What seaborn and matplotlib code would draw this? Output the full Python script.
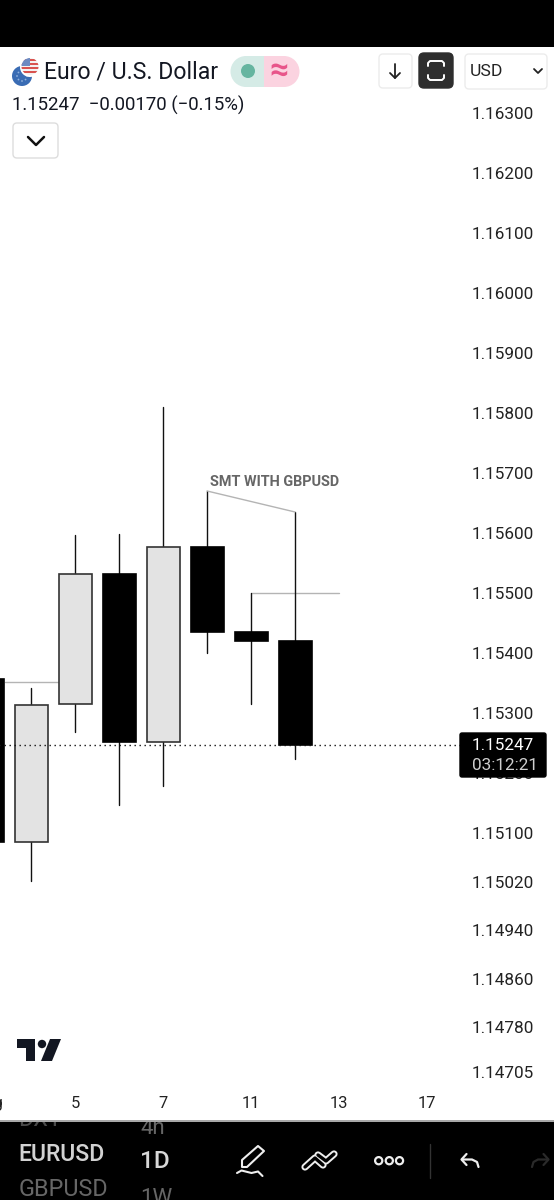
import matplotlib
matplotlib.use('Agg')

import numpy as np
import pandas as pd
import matplotlib.pyplot as plt
import seaborn as sns
from matplotlib.patches import Circle, FancyBboxPatch, Polygon, Rectangle

# candle data
candle_idx = [-1, 0, 1, 2, 3, 4, 5, 6]
opens = [1.153568, 1.150853, 1.153147, 1.155316, 1.152519, 1.155766, 1.154351, 1.154201]
highs = [1.153568, 1.153418, 1.155966, 1.155983, 1.158097, 1.156699, 1.155000, 1.156349]
lows = [1.150853, 1.150204, 1.152685, 1.151470, 1.151786, 1.154001, 1.153152, 1.152236]
closes = [1.150853, 1.153135, 1.155316, 1.152519, 1.155766, 1.154351, 1.154201, 1.152470]

price_ticks = [1.163, 1.162, 1.161, 1.160, 1.159, 1.158, 1.157, 1.156, 1.155, 1.154,
               1.153, 1.152, 1.151, 1.15019, 1.14938, 1.14858, 1.14777, 1.14702]
price_labels = ['1.16300', '1.16200', '1.16100', '1.16000', '1.15900', '1.15800', '1.15700',
                '1.15600', '1.15500', '1.15400', '1.15300', '1.15200', '1.15100', '1.15020',
                '1.14940', '1.14860', '1.14780', '1.14705']
day_ticks = [-0.95, 1, 3, 5, 7, 9]
day_labels = ['Aug', '5', '7', '11', '13', '17']

last_price = 1.15247

df = pd.DataFrame({'idx': candle_idx, 'open': opens, 'high': highs, 'low': lows, 'close': closes})
df['bottom'] = df[['open', 'close']].min(axis=1)
df['height'] = (df['open'] - df['close']).abs()
df['side'] = np.where(df['close'] > df['open'], 'up', 'down')

sns.set_theme(style='white')
plt.rcParams['font.family'] = ['Roboto', 'DejaVu Sans']

W, H = 554, 1200
fig = plt.figure(figsize=(W / 100, H / 100), dpi=100, facecolor='white')

# main chart: starts left of the canvas so the cut off Aug tick is still drawn
ax = fig.add_axes([-13 / W, (H - 1088) / H, 478 / W, (1088 - 48) / H])

wicks = df.melt(id_vars='idx', value_vars=['high', 'low'], value_name='price')
sns.lineplot(data=wicks, x='idx', y='price', units='idx', estimator=None, color='#111111',
             linewidth=1.0, ax=ax, legend=False, zorder=2)

# one barplot per colour, bottom has to match the rows passed in
for side, fill, edge in [('up', '#e3e3e3', '#333333'), ('down', '#000000', '#000000')]:
    part = df[df['side'] == side]
    sns.barplot(data=part, x='idx', y='height', bottom=part['bottom'].values, color=fill,
                saturation=1, native_scale=True, width=0.75, errorbar=None, ax=ax,
                edgecolor=edge, linewidth=1.2, zorder=3)

ax.axhline(last_price, color='#111111', lw=1, ls=(0, (1, 2.6)), zorder=4)

# drawings on the chart
grey = '#b4b4b4'
ax.plot([4, 6], [1.156699, 1.156349], color=grey, lw=1, zorder=2)
ax.plot([5, 7], [1.155, 1.155], color=grey, lw=1, zorder=1)
ax.plot([-0.6, 1], [1.15352, 1.15352], color=grey, lw=1, zorder=1)
ax.text(4.07, 1.15674, 'SMT WITH GBPUSD', color='#666666', fontsize=10.4, fontweight='bold',
        ha='left', va='bottom')

ax.yaxis.tick_right()
ax.set_yticks(price_ticks)
ax.set_yticklabels(price_labels)
ax.set_xticks(day_ticks)
ax.set_xticklabels(day_labels)
# limits after the ticks, set_xticks widens the view
ax.set_xlim(-1, (465 - 31) / 44)
ax.set_ylim(1.155 + (593 - 1088) / 60050, 1.155 + (593 - 48) / 60050)
ax.set_xlabel('')
ax.set_ylabel('')
ax.tick_params(axis='y', length=0, pad=5, labelsize=12.3, labelcolor='#222222')
ax.tick_params(axis='x', length=0, pad=6, labelsize=11.8, labelcolor='#222222')
for s in ax.spines.values():
    s.set_visible(False)

# overlay in pixel coordinates for the app chrome
ui = fig.add_axes([0, 0, 1, 1], facecolor='none')
ui.set_xlim(0, W)
ui.set_ylim(H, 0)
ui.axis('off')


def box(x0, y0, x1, y1, fc='white', ec='#ececec', r=4, z=5):
    ui.add_patch(FancyBboxPatch((x0 + r, y0 + r), x1 - x0 - 2 * r, y1 - y0 - 2 * r,
                                boxstyle='round,pad=%d,rounding_size=%d' % (r, r),
                                fc=fc, ec=ec, lw=1, zorder=z))


ui.add_patch(Rectangle((0, 0), W, 47, fc='black', ec='none'))

# symbol icons
ui.add_patch(Circle((22, 76), 10, fc='#3a6cb4', ec='none', zorder=3))
for a in np.arange(0, 360, 45):
    ui.add_patch(Circle((22 + 5 * np.cos(np.radians(a)), 76 + 5 * np.sin(np.radians(a))), 0.9,
                        fc='#8fb0dc', ec='none', zorder=4))
ui.add_patch(Circle((30, 67), 10, fc='white', ec='none', zorder=4))
flag = Circle((30, 66.5), 8.5, fc='#f4f1f1', ec='none', zorder=5)
ui.add_patch(flag)
for yy in [60, 64, 68, 72]:
    st = Rectangle((21, yy - 1), 18, 2, fc='#d9534f', ec='none', zorder=6)
    ui.add_patch(st)
    st.set_clip_path(flag)
canton = Rectangle((21, 57), 9, 8.5, fc='#6d8ac2', ec='none', zorder=7)
ui.add_patch(canton)
canton.set_clip_path(flag)

ui.text(44, 72.5, 'Euro / U.S. Dollar', fontsize=16.6, color='#131722', va='center', ha='left', zorder=6)
ui.text(12, 105, '1.15247  \u22120.00170 (\u22120.15%)', fontsize=13.4, color='#131722',
        va='center', ha='left')

# market status pill
ui.add_patch(Rectangle((245, 56), 39, 31, fc='#d5ebe6', ec='none', zorder=3))
ui.add_patch(Circle((246, 71.5), 15.5, fc='#d5ebe6', ec='none', zorder=3))
ui.add_patch(Rectangle((264, 56), 20, 31, fc='#fbd3e0', ec='none', zorder=4))
ui.add_patch(Circle((284, 71.5), 15.5, fc='#fbd3e0', ec='none', zorder=3))
ui.add_patch(Circle((248, 71), 7, fc='#66b5a0', ec='none', zorder=5))
ui.text(279, 71, '\u2248', fontsize=24, color='#e8558a', ha='center', va='center', zorder=5,
        fontweight='bold')

# top right buttons
box(379, 54, 412, 88)
ui.plot([395, 395], [64, 78], color='#222222', lw=1.3, zorder=6)
ui.plot([390, 395, 400], [73, 78, 73], color='#222222', lw=1.3, zorder=6)
box(419, 53, 453, 88, fc='#2e2e2e', ec='#2e2e2e', r=5)
ui.plot([428, 428, 430, 442, 444, 444], [66, 63, 61, 61, 63, 66], color='white', lw=1.4, zorder=6)
ui.plot([428, 428, 430, 442, 444, 444], [75, 78, 80, 80, 78, 75], color='white', lw=1.4, zorder=6)
box(465, 54, 547, 89)
ui.text(470, 71.5, 'USD', fontsize=12.6, color='#222222', va='center', ha='left', zorder=6)
ui.plot([534, 538, 542], [69, 73, 69], color='#222222', lw=1.3, zorder=6)
box(13, 123, 58, 158, ec='#dddddd')
ui.plot([28, 36, 44], [137, 145, 137], color='#111111', lw=1.8, zorder=6)

# last price tag
box(460, 733, 546, 777, fc='black', ec='black', r=2, z=6)
ui.text(472, 745, '1.15247', fontsize=12.3, color='white', va='center', ha='left', zorder=7)
ui.text(472, 766, '03:12:21', fontsize=12.3, color='#cfcfcf', va='center', ha='left', zorder=7)

# logo
ui.add_patch(Polygon([(17, 1039), (35, 1039), (35, 1061), (26, 1061), (26, 1048), (17, 1048)],
                     fc='#131722', ec='none'))
ui.add_patch(Circle((42, 1044), 4.2, fc='#131722', ec='none'))
ui.add_patch(Polygon([(50, 1039), (61, 1039), (52, 1061), (41, 1061)], fc='#131722', ec='none'))

# bottom toolbar, own axes so the wheel text gets clipped
bar = fig.add_axes([0, 0, 1, (H - 1122) / H], facecolor='black')
bar.set_xlim(0, W)
bar.set_ylim(H, 1122)
bar.axis('off')
bar.add_patch(Rectangle((0, 1122), W, 78, fc='black', ec='none', zorder=0))
ui.add_patch(Rectangle((0, 1120), W, 2, fc='#a8a8a8', ec='none'))

bar.text(18.5, 1119, 'DXY', fontsize=16.8, color='#4a4a4a', va='center', clip_on=True)
bar.text(18.5, 1154.5, 'EURUSD', fontsize=16.6, color='#d2d2d2', va='center', fontweight='medium', clip_on=True)
bar.text(18.5, 1189.5, 'GBPUSD', fontsize=16.8, color='#666666', va='center', clip_on=True)
bar.text(140, 1129, '4h', fontsize=16, color='#666666', va='center', clip_on=True)
bar.text(139.5, 1162, '1D', fontsize=17.6, color='#d8d8d8', va='center', fontweight='medium', clip_on=True)
bar.text(140, 1199, '1W', fontsize=16, color='#666666', va='center', clip_on=True)

ic = '#eeeeee'
# pencil
bar.add_patch(Polygon([(242, 1160), (258, 1146), (264, 1151), (247, 1167), (242, 1167)],
                      fc='none', ec=ic, lw=1.5, joinstyle='round'))
bar.plot([237, 241.5, 251.5, 258, 262.5], [1173, 1170.5, 1173, 1171.5, 1176], color=ic, lw=1.5)
# line tool, outlined chevrons
for xs, ys in [([305, 315, 323], [1167, 1158, 1165]), ([318, 326, 334], [1155, 1161, 1154])]:
    bar.plot(xs, ys, color=ic, lw=5.2, solid_capstyle='round', solid_joinstyle='round', zorder=3)
    bar.plot(xs, ys, color='black', lw=2.4, solid_capstyle='round', solid_joinstyle='round', zorder=4)
# dots
for cx in [378.7, 389.3, 399.5]:
    bar.add_patch(Circle((cx, 1160.7), 3.6, fc='none', ec=ic, lw=1.6))
bar.plot([429.5, 429.5], [1144, 1178], color='#333333', lw=1)
# undo and redo
bar.plot([478.5, 477, 472, 462], [1167, 1162, 1159.5, 1159.5], color=ic, lw=1.6)
bar.plot([466.5, 461.5, 466.5], [1154, 1159.5, 1165], color=ic, lw=1.6)
bar.plot([532, 533.5, 538, 548], [1167, 1162, 1159.5, 1159.5], color='#2a2a2a', lw=1.6)
bar.plot([543.5, 548.5, 543.5], [1154, 1159.5, 1165], color='#2a2a2a', lw=1.6)

plt.savefig('out.png', dpi=100)
